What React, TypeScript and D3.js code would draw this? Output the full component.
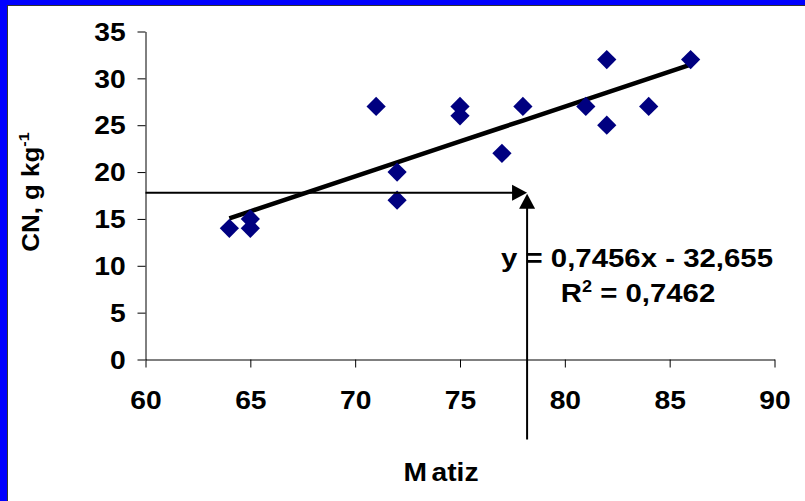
import { useEffect, useRef } from "react";
import * as d3 from "d3";

// Matiz (hue) vs CN values
const matiz = [64, 65, 65, 71, 72, 72, 75, 75, 77, 78, 81, 82, 82, 84, 86];
const cn = [14, 15, 14, 27, 20, 17, 27, 26, 22, 27, 27, 32, 25, 27, 32];

const xTicks = [60, 65, 70, 75, 80, 85, 90];
const yTicks = [0, 5, 10, 15, 20, 25, 30, 35];

// linear fit shown on the chart
const slope = 0.7456;
const intercept = -32.655;
const r2 = "0,7462";

// reading arrows
const arrowX = 78.2;
const arrowY = 17.8;

const W = 805;
const H = 501;
const FONT = "'Liberation Sans', Arial, sans-serif";
const WIDE = 1.13; // the original lettering is a bit wider than Arial

const App = () => {
  const svgRef = useRef<SVGSVGElement>(null);

  useEffect(() => {
    const svg = d3.select(svgRef.current);
    svg.selectAll("*").remove();

    // blue frame
    svg.append("rect").attr("width", W).attr("height", H).attr("fill", "#0000ff");
    svg.append("rect").attr("x", 8).attr("y", 6).attr("width", W).attr("height", H).attr("fill", "#fff");
    svg.append("line").attr("x1", 7.5).attr("x2", 7.5).attr("y1", 5).attr("y2", H).attr("stroke", "#333");
    svg.append("line").attr("x1", 7).attr("x2", W).attr("y1", 5.5).attr("y2", 5.5).attr("stroke", "#333");

    const x = d3.scaleLinear().domain([60, 90]).range([145.5, 774.5]);
    const y = d3.scaleLinear().domain([0, 35]).range([359.5, 31.5]);

    // axes
    const xAxis = svg
      .append("g")
      .attr("transform", `translate(0,${y(0)})`)
      .call(d3.axisBottom(x).tickValues(xTicks).tickSize(8).tickSizeOuter(0));
    const yAxis = svg
      .append("g")
      .attr("transform", `translate(${x(60)},0)`)
      .call(d3.axisLeft(y).tickValues(yTicks).tickSize(8).tickSizeOuter(0));

    [xAxis, yAxis].forEach((g) => {
      g.select(".domain").attr("stroke", "#000");
      g.selectAll(".tick line").attr("stroke", "#000");
      g.selectAll(".tick text")
        .attr("fill", "#000")
        .attr("transform", `scale(${WIDE},1)`)
        .style("font-family", FONT)
        .style("font-weight", "bold")
        .style("font-size", "25px");
    });
    xAxis.selectAll(".tick text").attr("y", 0).attr("dy", "50px");
    yAxis.selectAll(".tick text").attr("x", -17.5).attr("dy", "0.35em");

    // trend line
    const fitX = Array.from(new Set(matiz)).sort((a, b) => a - b);
    const line = d3
      .line<number>()
      .x((d) => x(d))
      .y((d) => y(slope * d + intercept));
    svg
      .append("path")
      .attr("d", line(fitX))
      .attr("fill", "none")
      .attr("stroke", "#000")
      .attr("stroke-width", 4.5)
      .attr("stroke-linejoin", "round");

    // points
    const diamond = d3.symbol(d3.symbolSquare, 185);
    svg
      .selectAll(".pt")
      .data(matiz)
      .join("path")
      .attr("d", diamond)
      .attr("transform", (d, i) => `translate(${x(d)},${y(cn[i])}) rotate(45)`)
      .attr("fill", "#000080");

    // arrows
    const ax = x(arrowX);
    const ay = y(arrowY);
    svg.append("line").attr("x1", x(60)).attr("x2", ax - 12).attr("y1", ay).attr("y2", ay).attr("stroke", "#000").attr("stroke-width", 2);
    svg.append("path").attr("d", `M${ax},${ay}L${ax - 15},${ay - 8}L${ax - 15},${ay + 8}Z`).attr("fill", "#000");
    svg.append("line").attr("x1", ax).attr("x2", ax).attr("y1", y(0) + 80).attr("y2", ay + 12).attr("stroke", "#000").attr("stroke-width", 2);
    svg.append("path").attr("d", `M${ax},${ay + 1}L${ax - 8},${ay + 16}L${ax + 8},${ay + 16}Z`).attr("fill", "#000");

    // equation
    const eq = svg
      .append("g")
      .style("font-family", FONT)
      .style("font-weight", "bold")
      .style("font-size", "26px")
      .attr("fill", "#000");
    eq.append("text")
      .attr("transform", `translate(637,267) scale(${WIDE},1)`)
      .attr("text-anchor", "middle")
      .text(`y = ${String(slope).replace(".", ",")}x - ${String(-intercept).replace(".", ",")}`);
    const r = eq
      .append("text")
      .attr("transform", `translate(638,302) scale(${WIDE},1)`)
      .attr("text-anchor", "middle");
    r.append("tspan").text("R");
    r.append("tspan").attr("dy", -10).style("font-size", "16px").text("2");
    r.append("tspan").attr("dy", 10).text(` = ${r2}`);

    // axis titles
    const xt = svg
      .append("text")
      .attr("transform", `translate(441,481) scale(${WIDE},1)`)
      .attr("text-anchor", "middle")
      .style("font-family", FONT)
      .style("font-weight", "bold")
      .style("font-size", "25px");
    xt.append("tspan").text("M");
    xt.append("tspan").attr("dx", 4).text("atiz");

    const yt = svg
      .append("text")
      .attr("transform", `translate(39,192) rotate(-90) scale(1.08,1)`)
      .attr("text-anchor", "middle")
      .style("font-family", FONT)
      .style("font-weight", "bold")
      .style("font-size", "24px");
    yt.append("tspan").text("CN, g kg");
    yt.append("tspan").attr("dy", -10).style("font-size", "15px").text("-1");
  }, []);

  return (
    <svg
      ref={svgRef}
      width={W}
      height={H}
      style={{ position: "absolute", left: 0, top: 0, display: "block" }}
    />
  );
};

export default App;
